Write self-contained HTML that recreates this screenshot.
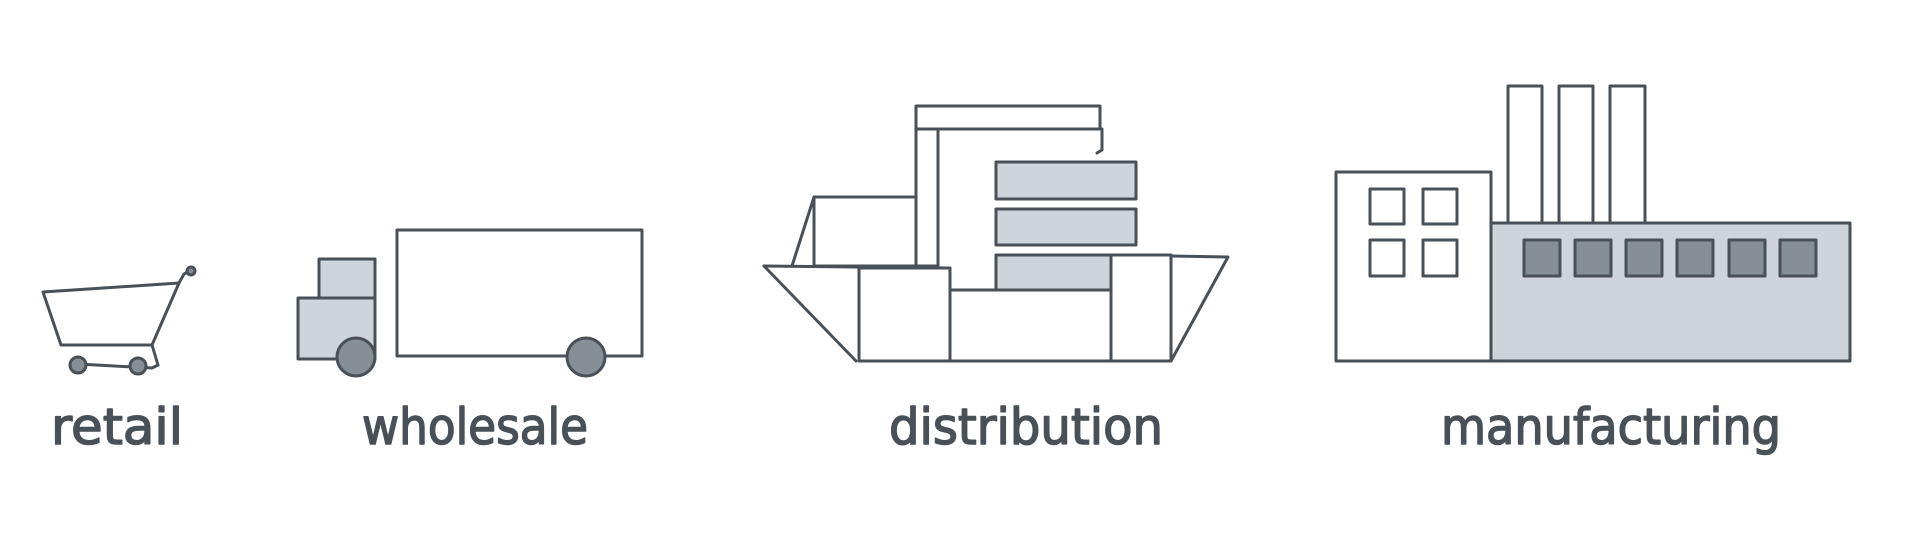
<!DOCTYPE html>
<html><head><meta charset="utf-8"><style>
html,body{margin:0;padding:0;background:#fff;width:1910px;height:538px;overflow:hidden}
svg{display:block}
text{font-family:"DejaVu Sans",sans-serif;font-size:50px;fill:#495057}
</style></head><body>
<svg width="1910" height="538" viewBox="0 0 1910 538" fill="none" stroke="#495057" stroke-width="3" stroke-linejoin="round" stroke-linecap="round">
<!-- cart -->
<path d="M43 292 L179 283 L152 345 L61 345 Z"/>
<path d="M179 283 L184 274 L190 271"/>
<circle cx="191" cy="271" r="4" fill="#868e96"/>
<path d="M152 345 L158 365 L152 368 L78 364"/>
<circle cx="78" cy="365" r="8" fill="#868e96"/>
<circle cx="138" cy="366" r="8" fill="#868e96"/>
<!-- truck -->
<rect x="319" y="259" width="56" height="39" fill="#ced4da"/>
<rect x="298" y="298" width="77" height="61" fill="#ced4da"/>
<rect x="397" y="230" width="245" height="126" fill="#fff"/>
<circle cx="356" cy="357" r="19" fill="#868e96"/>
<circle cx="586" cy="357" r="19" fill="#868e96"/>
<!-- ship -->
<rect x="916" y="106" width="184" height="23"/>
<rect x="916" y="129" width="22" height="137"/>
<path d="M938 129 L1102 129 L1102 150 L1097 153"/>
<rect x="996" y="162" width="140" height="37" fill="#ced4da"/>
<rect x="996" y="209" width="140" height="36" fill="#ced4da"/>
<rect x="996" y="255" width="115" height="35" fill="#ced4da"/>
<rect x="814" y="197" width="102" height="69"/>
<path d="M792 266 L814 197"/>
<path d="M764 266 L950 268"/>
<path d="M764 266 L856 361"/>
<rect x="859" y="268" width="91" height="93"/>
<rect x="950" y="290" width="161" height="71"/>
<rect x="1111" y="255" width="60" height="106"/>
<path d="M1171 256 L1228 257 L1171 361"/>
<!-- factory -->
<rect x="1508" y="86" width="34" height="137"/>
<rect x="1559" y="86" width="34" height="137"/>
<rect x="1610" y="86" width="35" height="137"/>
<rect x="1336" y="172" width="155" height="189" fill="#fff"/>
<rect x="1370" y="189" width="34" height="35"/>
<rect x="1423" y="189" width="34" height="35"/>
<rect x="1370" y="240" width="34" height="36"/>
<rect x="1423" y="240" width="34" height="36"/>
<rect x="1491" y="223" width="359" height="138" fill="#ced4da"/>
<g fill="#868e96">
<rect x="1524" y="240" width="36" height="36"/>
<rect x="1575" y="240" width="36" height="36"/>
<rect x="1626" y="240" width="36" height="36"/>
<rect x="1677" y="240" width="36" height="36"/>
<rect x="1729" y="240" width="36" height="36"/>
<rect x="1780" y="240" width="36" height="36"/>
</g>
<g stroke="#495057" stroke-width="1.5" fill="#495057">
<text x="51" y="444" textLength="132" lengthAdjust="spacingAndGlyphs">retail</text>
<text x="362" y="444" textLength="226" lengthAdjust="spacingAndGlyphs">wholesale</text>
<text x="889" y="444" textLength="274" lengthAdjust="spacingAndGlyphs">distribution</text>
<text x="1441" y="444" textLength="340" lengthAdjust="spacingAndGlyphs">manufacturing</text>
</g>
</svg>
</body></html>
